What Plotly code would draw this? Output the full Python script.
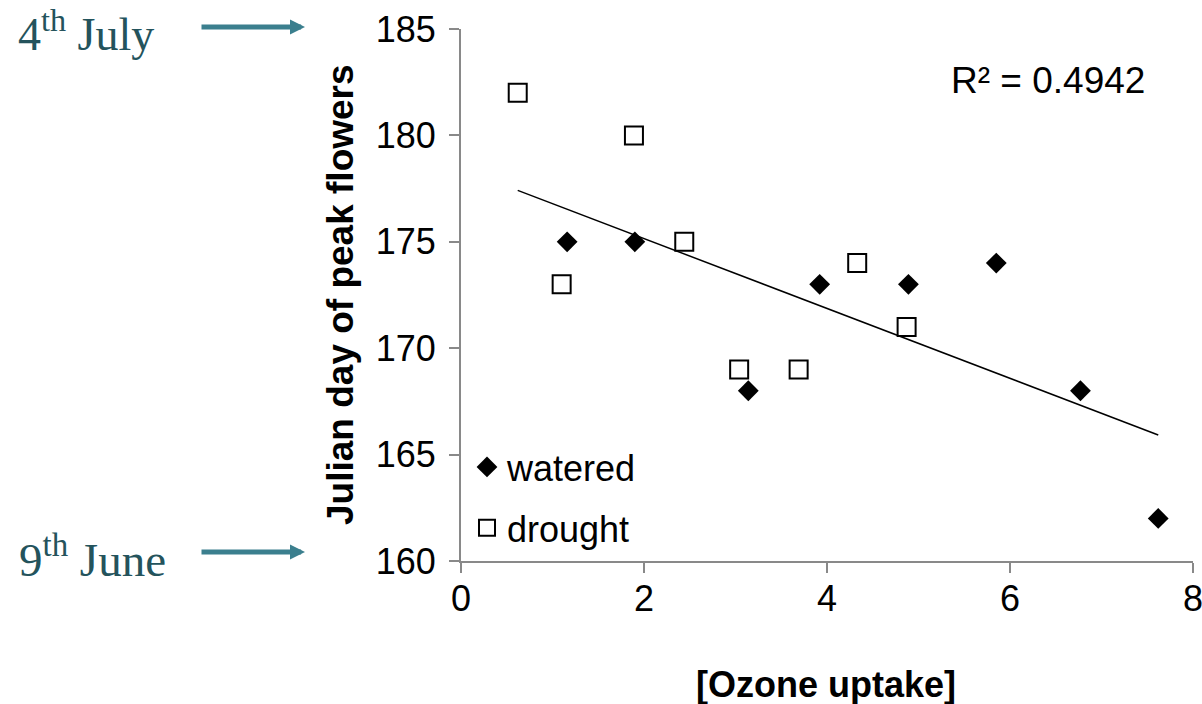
import numpy as np
import plotly.graph_objects as go

# Data
watered_x = [1.16, 1.90, 3.14, 3.92, 4.89, 5.85, 6.77, 7.62]
watered_y = [175, 175, 168, 173, 173, 174, 168, 162]
drought_x = [0.62, 1.89, 2.44, 1.10, 3.04, 3.69, 4.33, 4.87]
drought_y = [182, 180, 175, 173, 169, 169, 174, 171]
r2_label = "R² = 0.4942"
x_ticks = [0, 2, 4, 6, 8]
y_ticks = [160, 165, 170, 175, 180, 185]

all_x = np.array(watered_x + drought_x)
all_y = np.array(watered_y + drought_y)
slope, intercept = np.polyfit(all_x, all_y, 1)
fit_x = np.array([all_x.min(), all_x.max()])
fit_y = slope * fit_x + intercept

W, H = 1202, 704
L, R, T, B = 461, 9, 29, 143
pw, ph = W - L - R, H - T - B


def px(x):
    return (x - L) / pw


def py(y):
    return (H - B - y) / ph


FONT = "Liberation Sans, Arial, sans-serif"
SERIF = "Liberation Serif, DejaVu Serif, serif"
TEAL = "#24535c"
ARROW = "#3b7f8e"

fig = go.Figure()
fig.add_trace(go.Scatter(
    x=watered_x, y=watered_y, mode="markers", name="watered",
    legendgroup="w",
    marker=dict(symbol="diamond", size=16, color="black", line=dict(width=0)),
))
fig.add_trace(go.Scatter(
    x=drought_x, y=drought_y, mode="markers", name="drought",
    legendgroup="d",
    marker=dict(symbol="square-open", size=18, color="black", line=dict(width=2)),
))
fig.add_trace(go.Scatter(
    x=fit_x, y=fit_y, mode="lines", showlegend=False,
    line=dict(color="black", width=1.5),
))

axis_common = dict(
    showline=True, linecolor="#898989", linewidth=2,
    ticks="outside", ticklen=10, tickcolor="#898989", tickwidth=2,
    showgrid=False, zeroline=False, ticklabeloverflow="allow", automargin=False,
    tickfont=dict(family=FONT, size=36, color="black"),
)

fig.update_xaxes(range=[0, 8], tickvals=x_ticks, ticklabelstandoff=-5, **axis_common)
fig.update_yaxes(range=[160, 185], tickvals=y_ticks, ticklabelstandoff=6, **axis_common)


def ann(text, x, y, size, family=FONT, color="black", **kw):
    d = dict(text=text, x=px(x), y=py(y), xref="paper", yref="paper",
             xanchor="center", yanchor="middle", showarrow=False,
             font=dict(family=family, size=size, color=color))
    d.update(kw)
    return d


annotations = [
    ann(r2_label, 1048, 80, 37),
    ann("<b>[Ozone uptake]</b>", 826, 684, 36),
    ann("<b>Julian day of peak flowers</b>", 340, 295, 37, textangle=-90),
    ann("4<sup>th</sup> July", 86, 31, 46, family=SERIF, color=TEAL),
    ann("9<sup>th</sup> June", 92, 556, 47, family=SERIF, color=TEAL),
    dict(text="", x=px(305), y=py(27), xref="paper", yref="paper",
         ax=-105, ay=0, showarrow=True, arrowhead=2, arrowsize=0.6,
         arrowwidth=5, arrowcolor=ARROW),
    dict(text="", x=px(305), y=py(552), xref="paper", yref="paper",
         ax=-105, ay=0, showarrow=True, arrowhead=2, arrowsize=0.6,
         arrowwidth=5, arrowcolor=ARROW),
]

fig.update_layout(
    width=W, height=H,
    margin=dict(l=L, r=R, t=T, b=B, pad=0, autoexpand=False),
    plot_bgcolor="white", paper_bgcolor="white",
    annotations=annotations,
    showlegend=True,
    legend=dict(
        x=px(467), y=py(437), xanchor="left", yanchor="top",
        font=dict(family=FONT, size=36, color="black"),
        bgcolor="rgba(0,0,0,0)", tracegroupgap=11, traceorder="grouped",
        itemwidth=30,
    ),
)

fig.write_html(
    "out.html",
    config={"displayModeBar": False},
    post_script="document.body.style.margin='0';document.body.style.overflow='hidden';",
)
